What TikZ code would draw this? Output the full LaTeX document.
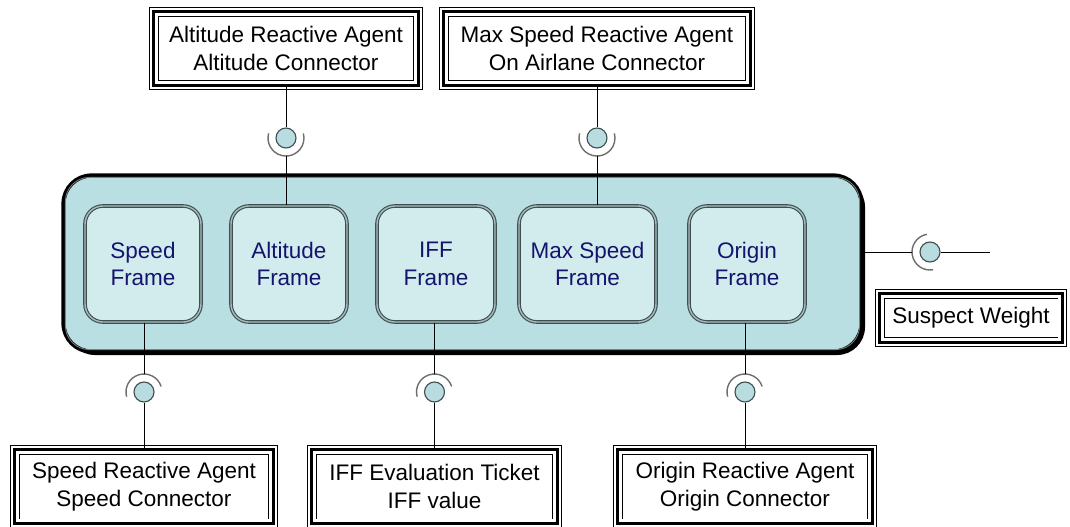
\documentclass[tikz,border=0pt]{standalone}
\usepackage{fontspec}
\setmainfont{Liberation Sans}
\usetikzlibrary{shadows}
\definecolor{contFill}{RGB}{185,223,226}
\definecolor{frameFill}{RGB}{210,235,237}
\definecolor{frameLine}{RGB}{63,79,80}
\definecolor{ballFill}{RGB}{184,220,223}
\definecolor{frameText}{RGB}{20,20,110}
\definecolor{sockGray}{RGB}{110,110,110}

\begin{document}
\begin{tikzpicture}[font=\fontsize{16}{19.5}\selectfont,
  compbox/.style={draw=black, line width=3pt, fill=contFill, rounded corners=0.7cm,
    minimum width=19.95cm, minimum height=4.4cm,
    drop shadow={shadow xshift=2.5pt, shadow yshift=-2.5pt, fill=black, opacity=1}},
  frame/.style={draw=frameLine, line width=0.8pt, double=frameFill!70!frameLine, double distance=1pt,
    fill=frameFill, rounded corners=0.45cm, minimum height=2.9cm, text=frameText, align=center},
  agentbox/.style={draw, line width=0.7pt, double=white, double distance=5.3pt, fill=white,
    inner sep=0pt, align=center},
  ball/.style={circle, draw=frameLine, line width=0.8pt, fill=ballFill, minimum size=0.5cm, inner sep=0pt},
  sock/.style={draw=sockGray, line width=1pt},
  wire/.style={draw=black, line width=0.6pt}]
  \useasboundingbox (0,0) rectangle (26.75,-13.15);

  \node[compbox] (comp) at (11.5625,-6.5875) {};
  \draw[gray, line width=0.6pt, rounded corners=0.6cm] ([shift={(0.1,-0.1)}]comp.north west) rectangle ([shift={(-0.1,0.1)}]comp.south east);

  \node[frame, minimum width=2.9cm] (spdFrame) at (3.575,-6.6) {Speed\\Frame};
  \node[frame, minimum width=2.9cm] (altFrame) at (7.225,-6.6) {Altitude\\Frame};
  \node[frame, minimum width=2.95cm] (iffFrame) at (10.9,-6.6) {IFF\\Frame};
  \node[frame, minimum width=3.425cm] (maxFrame) at (14.6875,-6.6) {Max Speed\\Frame};
  \node[frame, minimum width=2.9cm] (oriFrame) at (18.675,-6.6) {Origin\\Frame};

  \node[agentbox, minimum width=6.61cm, minimum height=1.835cm] (altAgent) at (7.15,-1.2125) {Altitude Reactive Agent\\Altitude Connector};
  \node[agentbox, minimum width=7.66cm, minimum height=1.835cm] (maxAgent) at (14.925,-1.2125) {Max Speed Reactive Agent\\On Airlane Connector};
  \node[agentbox, minimum width=6.46cm, minimum height=1.835cm] (spdAgent) at (3.6,-12.1625) {Speed Reactive Agent\\Speed Connector};
  \node[agentbox, minimum width=6.135cm, minimum height=1.835cm] (iffAgent) at (10.8625,-12.1625) {IFF Evaluation Ticket\\IFF value};
  \node[agentbox, minimum width=6.36cm, minimum height=1.835cm] (oriAgent) at (18.625,-12.1625) {Origin Reactive Agent\\Origin Connector};
  \node[agentbox, minimum width=4.56cm, minimum height=1.21cm] (susBox) at (24.275,-7.95) {Suspect Weight};
  \foreach \n in {altAgent,maxAgent,spdAgent,iffAgent,oriAgent,susBox}
    \draw[line width=2.1pt] (\n.south west) rectangle (\n.north east);

  \node[ball] (altBall) at (7.15,-3.45) {};
  \node[ball] (maxBall) at (14.925,-3.45) {};
  \node[ball] (spdBall) at (3.6,-9.8) {};
  \node[ball] (iffBall) at (10.8625,-9.8) {};
  \node[ball] (oriBall) at (18.625,-9.8) {};
  \node[ball] (susBall) at (23.25,-6.3) {};
  \coordinate (susEnd) at (24.75,-6.3);

  \foreach \b in {altBall,maxBall}
    \draw[sock] (\b.center) ++(165:0.45) arc[start angle=165, end angle=375, radius=0.45];
  \foreach \b in {spdBall,iffBall,oriBall}
    \draw[sock] (\b.center) ++(18:0.45) arc[start angle=18, end angle=195, radius=0.45];
  \draw[sock] (susBall.center) ++(100:0.45) arc[start angle=100, end angle=280, radius=0.45];

  \draw[wire] (altAgent) -- (altBall);
  \draw[wire] ([yshift=-0.45cm]altBall.center) -- (altBall |- altFrame.north);
  \draw[wire] (maxAgent) -- (maxBall);
  \draw[wire] ([yshift=-0.45cm]maxBall.center) -- (maxBall |- maxFrame.north);
  \draw[wire] (spdBall |- spdFrame.south) -- ([yshift=0.45cm]spdBall.center);
  \draw[wire] (spdBall) -- (spdAgent);
  \draw[wire] (iffBall |- iffFrame.south) -- ([yshift=0.45cm]iffBall.center);
  \draw[wire] (iffBall) -- (iffAgent);
  \draw[wire] (oriBall |- oriFrame.south) -- ([yshift=0.45cm]oriBall.center);
  \draw[wire] (oriBall) -- (oriAgent);
  \draw[wire] (comp.east |- susBall) -- ([xshift=-0.45cm]susBall.center);
  \draw[wire] (susBall) -- (susEnd);
\end{tikzpicture}
\end{document}
